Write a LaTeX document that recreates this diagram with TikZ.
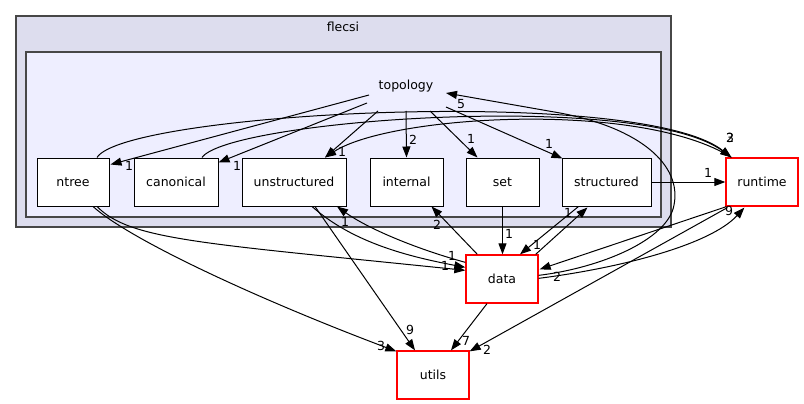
\documentclass[tikz,border=0pt]{standalone}
\usepackage{fontspec}
\setmainfont{DejaVu Sans}
\usetikzlibrary{arrows.meta,calc}
\definecolor{clouter}{HTML}{DDDDEE}
\definecolor{clinner}{HTML}{EEEEFF}
\definecolor{clborder}{HTML}{474747}
\definecolor{extred}{HTML}{FF0000}
\begin{document}
\begin{tikzpicture}[x=1pt,y=-1pt,
  font=\fontsize{12.5}{15}\selectfont,
  dirbox/.style={draw=black, fill=white, minimum width=#1, minimum height=48pt, inner sep=0pt, line width=1pt},
  extbox/.style={draw=extred, fill=white, minimum width=72pt, minimum height=48pt, inner sep=0pt, line width=1.3pt},
  dep/.style={draw=black, line width=1pt, -{Triangle[length=11pt,width=8pt]}},
  cnt/.style={inner sep=0pt}]

\useasboundingbox (0,0) rectangle (804,404);
\fill[white] (0,0) rectangle (804,404);

% directory clusters
\draw[clborder, fill=clouter, line width=1.3pt] (16,16) rectangle (671,227);
\node (flecsi) at (343,27) {flecsi};
\draw[clborder, fill=clinner, line width=1.3pt] (26,52) rectangle (661,217);
\node (topo) at (406,86) {topology};

% sub-directories of topology
\node[dirbox=72pt] (ntree) at (73,182) {ntree};
\node[dirbox=84pt] (canon) at (176,182) {canonical};
\node[dirbox=104pt] (unst) at (294,182) {unstructured};
\node[dirbox=73pt] (internal) at (406.5,182) {internal};
\node[dirbox=73pt] (set) at (502.5,182) {set};
\node[dirbox=89pt] (struct) at (606.5,182) {structured};

% outside directories
\node[extbox] (runtime) at (762,182) {runtime};
\node[extbox] (data) at (502,279) {data};
\node[extbox] (utils) at (433,375) {utils};

% topology -> children
\draw[dep] ($(topo)+(-37,9)$) -- ($(ntree.north east)+(1,7)$);
\node[cnt] (l1) at (129,166) {1};
\draw[dep] ($(topo)+(-39,17)$) -- ($(canon.north east)+(0,5)$);
\node[cnt] (l2) at (237,166) {1};
\draw[dep] ($(topo)+(-28,25)$) -- ($(unst.north)+(31,0)$);
\node[cnt] (l3) at (342,152) {1};
\draw[dep] ($(topo)+(0,25)$) -- (internal.north);
\node[cnt] (l4) at (413,140) {2};
\draw[dep] ($(topo)+(24,25)$) -- ($(set.north west)+(12,0)$);
\node[cnt] (l5) at (471,139) {1};
\draw[dep] ($(topo)+(40,21)$) -- ($(struct.north west)+(1,1)$);
\node[cnt] (l6) at (549,144) {1};

% curves over the top to runtime
\draw[dep] ($(ntree.north)+(24,0)$) .. controls (125,112) and (640,85) .. ($(runtime.north west)+(6,0)$);
\draw[dep] ($(canon.north)+(26,0)$) .. controls (228,120) and (640,90) .. ($(runtime.north west)+(6,0)$);
\draw[dep] ($(runtime.north west)+(6,0)$) .. controls (640,100) and (390,115) .. ($(unst.north)+(31,0)$);
\node[cnt] (l7) at (730,138) {2};
\node[cnt] (l8) at (730,138) {3};

% data -> topology
\draw[dep] ($(data.north east)+(0,21)$) .. controls (600,268) and (668,240) .. (674,205)
  .. controls (682,165) and (640,128) .. (560,113) -- ($(topo)+(40,7)$);
\node[cnt] (l9) at (461,104) {5};

% structured -> runtime
\draw[dep] (struct.east) -- (runtime.west);
\node[cnt] (l10) at (708,173) {1};

% lower connections
\draw[dep] ($(ntree.south)+(20,0)$) .. controls (130,240) and (260,300) .. ($(utils.north west)+(0,1)$);
\node[cnt] (l11) at (381,346) {3};
\draw[dep] ($(ntree.south)+(24,0)$) .. controls (130,240) and (200,243) .. ($(data.north west)+(0,16)$);
\draw[dep] ($(unst.south)+(18,0)$) .. controls (350,240) and (400,255) .. ($(data.north west)+(0,13)$);
\node[cnt] (l12) at (452,256) {1};
\node[cnt] (l13) at (445,266) {1};
\draw[dep] ($(data.north west)+(0,8)$) .. controls (420,250) and (370,230) .. ($(unst.south)+(43,0)$);
\node[cnt] (l14) at (345,222) {1};
\draw[dep] ($(unst.south)+(21,0)$) -- ($(utils.north)+(-18,0)$);
\node[cnt] (l15) at (410,330) {9};
\draw[dep] ($(data.north west)+(12,0)$) -- ($(internal.south)+(25,0)$);
\node[cnt] (l16) at (437,225) {2};
\draw[dep] (set.south) -- ($(data.north)+(0.5,0)$);
\node[cnt] (l17) at (509,234) {1};
\draw[dep] ($(struct.south west)+(17,0)$) -- ($(data.north)+(18,0)$);
\node[cnt] (l18) at (537,245) {1};
\draw[dep] ($(data.north east)+(-3,0)$) -- ($(struct.south west)+(26,1)$);
\node[cnt] (l19) at (568,213) {1};
\draw[dep] ($(data.south)+(-15,0)$) -- ($(utils.north)+(18,0)$);
\node[cnt] (l20) at (466,341) {7};

% runtime <-> data, runtime -> utils
\draw[dep] ($(runtime.south west)+(1,0)$) -- ($(data.north east)+(1,15)$);
\node[cnt] (l21) at (557,277) {2};
\draw[dep] ($(data.north east)+(0,24)$) .. controls (620,268) and (710,245) .. ($(runtime.south west)+(19,1)$);
\node[cnt] (l22) at (729,211) {9};
\draw[dep] ($(runtime.south west)+(2,1)$) -- ($(utils.north east)+(0,1)$);
\node[cnt] (l23) at (487,350) {2};
\end{tikzpicture}
\end{document}
